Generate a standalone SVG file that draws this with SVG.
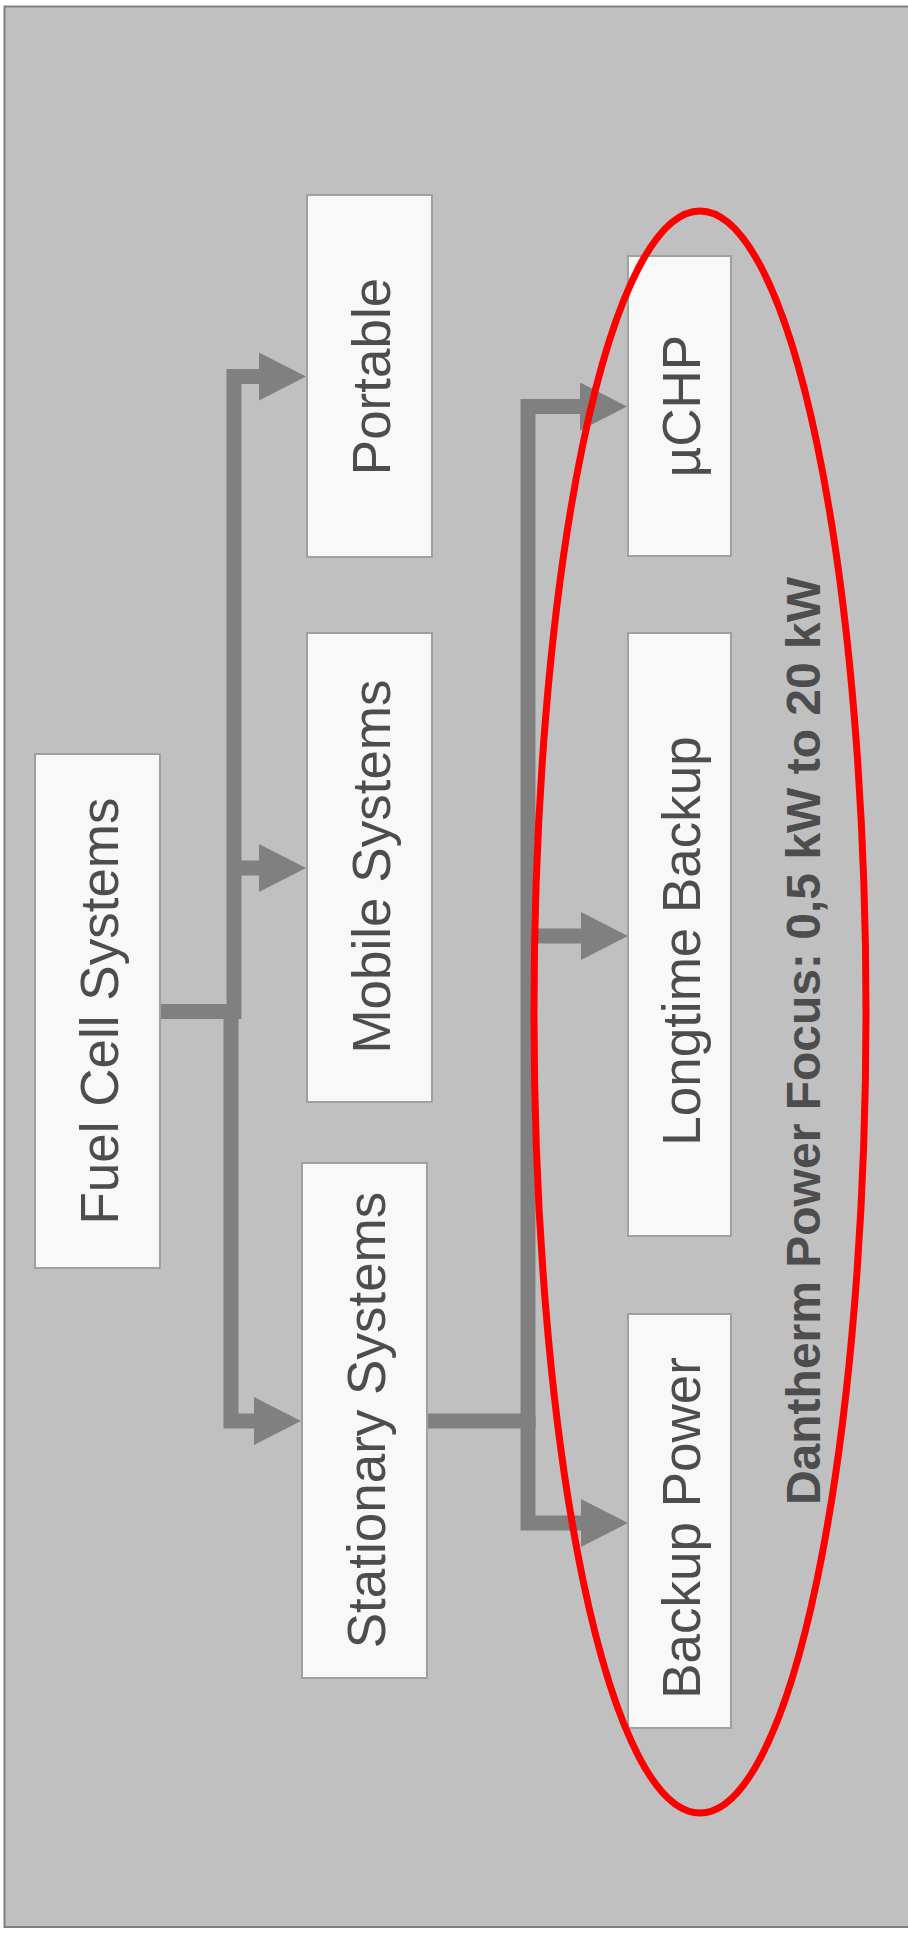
<svg xmlns="http://www.w3.org/2000/svg" width="908" height="1933" viewBox="0 0 908 1933">
<style>
.box{fill:#f8f8f8;stroke:#a0a0a0;stroke-width:2}
.lbl{font-family:"Liberation Sans",Arial,sans-serif;font-size:53px;fill:#4d4d4d;text-anchor:middle}
.bold{font-family:"Liberation Sans",Arial,sans-serif;font-size:48px;font-weight:bold;fill:#4d4d4d;text-anchor:middle}
.conn{fill:none;stroke:#808080;stroke-width:15;stroke-linejoin:miter;stroke-linecap:butt}
</style>
<defs>
<marker id="arr" viewBox="0 0 47 48" refX="0" refY="24" markerWidth="47" markerHeight="48" markerUnits="userSpaceOnUse" orient="auto">
<path d="M0,0 L47,24 L0,48 z" fill="#808080"/>
</marker>
</defs>
<rect id="background" x="4.5" y="6.5" width="1000" height="1920.5" fill="#c0c0c0" stroke="#808080" stroke-width="2"/>
<g id="connectors">
<path class="conn" d="M160,1011.5 H234 V376.5 H259" marker-end="url(#arr)"/>
<path class="conn" d="M234,868 H259" marker-end="url(#arr)"/>
<path class="conn" d="M231,1012 V1421 H254" marker-end="url(#arr)"/>
<path class="conn" d="M427,1421 H528 V406.5 H580" marker-end="url(#arr)"/>
<path class="conn" d="M528,1415 V1523 H581" marker-end="url(#arr)"/>
<path class="conn" d="M528,936 H581" marker-end="url(#arr)"/>
</g>
<g id="fuel-cell-systems">
<rect class="box" x="35" y="754" width="125" height="514"/>
<text class="lbl" transform="translate(117.5,1011) rotate(-90)">Fuel Cell Systems</text>
</g>
<g id="portable">
<rect class="box" x="307" y="195" width="125" height="362"/>
<text class="lbl" transform="translate(389.5,376.5) rotate(-90)">Portable</text>
</g>
<g id="mobile-systems">
<rect class="box" x="307" y="633" width="125" height="469"/>
<text class="lbl" transform="translate(389.5,866.5) rotate(-90)">Mobile Systems</text>
</g>
<g id="stationary-systems">
<rect class="box" x="302" y="1163" width="125" height="515"/>
<text class="lbl" transform="translate(384.5,1420) rotate(-90)">Stationary Systems</text>
</g>
<g id="uchp">
<rect class="box" x="628" y="256" width="103" height="300"/>
<text class="lbl" transform="translate(699.5,406) rotate(-90)">µCHP</text>
</g>
<g id="longtime-backup">
<rect class="box" x="628" y="633" width="103" height="603"/>
<text class="lbl" transform="translate(699.5,941) rotate(-90)">Longtime Backup</text>
</g>
<g id="backup-power">
<rect class="box" x="628" y="1314" width="103" height="414"/>
<text class="lbl" transform="translate(699.5,1528) rotate(-90)">Backup Power</text>
</g>
<g id="focus">
<ellipse cx="700" cy="1012" rx="166" ry="801" fill="none" stroke="#ff0000" stroke-width="7"/>
<text class="bold" transform="translate(820,1041) rotate(-90)">Dantherm Power Focus: 0,5 kW to 20 kW</text>
</g>
</svg>
